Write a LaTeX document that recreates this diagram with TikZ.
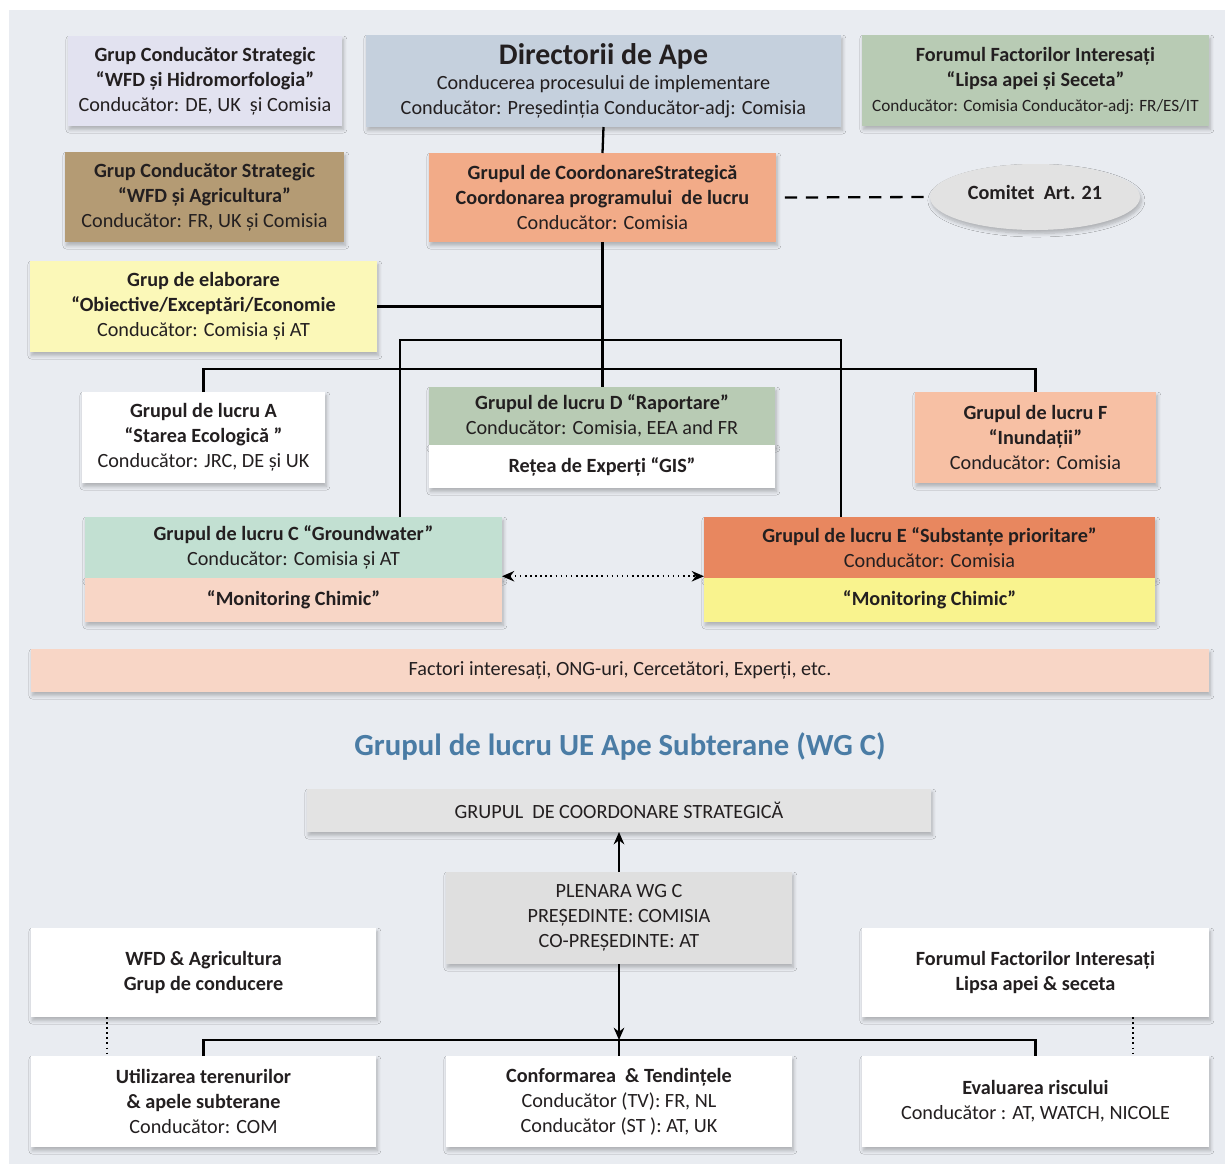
\documentclass[tikz,border=0pt]{standalone}
\usepackage{fontspec}
\setmainfont{Carlito}
\usetikzlibrary{shapes.geometric,arrows.meta,shadows.blur,calc}
\definecolor{bgc}{HTML}{E9ECF1}
\definecolor{txt}{HTML}{231F20}
\definecolor{lav}{HTML}{E2E2F0}
\definecolor{dirc}{HTML}{C5D0DD}
\definecolor{sage}{HTML}{B8CBB4}
\definecolor{tan}{HTML}{B49B74}
\definecolor{salm}{HTML}{F2AB88}
\definecolor{comc}{HTML}{E2E2E2}
\definecolor{lyel}{HTML}{FBF8B8}
\definecolor{fcol}{HTML}{F7C0A4}
\definecolor{mint}{HTML}{C2E0D2}
\definecolor{peach}{HTML}{F8D6C6}
\definecolor{orng}{HTML}{E8875F}
\definecolor{yel}{HTML}{F9F38E}
\definecolor{grayb}{HTML}{E3E3E3}
\definecolor{grayp}{HTML}{DFDFDF}
\definecolor{ttl}{HTML}{4A7CA5}
\newcommand\bx[7]{\node[box,#6,minimum width={(#4-#2)*0.02cm},minimum height={(#5-#3)*0.02cm}] (#1) at ({(#2+#4)/2},{(#3+#5)/2}) {#7};}
\begin{document}
\begin{tikzpicture}[x=0.02cm,y=-0.02cm,
  box/.style={inner sep=0pt,outer sep=0pt,align=center,text=txt,
    font=\fontsize{11.5}{14.2}\selectfont,
    blur shadow={shadow blur steps=6,shadow xshift=0.8pt,shadow yshift=-2pt,shadow opacity=25,shadow blur radius=2pt}},
  conn/.style={line width=1.3pt,draw=black},
  dotc/.style={line width=0.9pt,dotted},
  tip/.style={-{Stealth[length=7pt,width=6pt]}}]
\useasboundingbox (0,0) rectangle (1225,1164);
\fill[white] (0,0) rectangle (1225,1164);
\fill[bgc] (9,10) rectangle (1225,1164);

% ---- top part ----
\bx{hid}{68}{36}{342}{126}{fill=lav}{\textbf{Grup Conducător Strategic}\\\textbf{“WFD și Hidromorfologia”}\\Conducător: DE, UK\ \ și Comisia}
\bx{dir}{366}{35}{841}{127}{fill=dirc}{{\fontsize{17}{19}\selectfont\textbf{Directorii de Ape}}\\Conducerea procesului de implementare\\Conducător: Președinția Conducător-adj: Comisia}
\bx{for}{862}{35}{1209}{126}{fill=sage}{\textbf{Forumul Factorilor Interesați}\\\textbf{“Lipsa apei și Seceta”}\\{\fontsize{9.8}{14.2}\selectfont Conducător: Comisia Conducător-adj: FR/ES/IT}}
\bx{agr}{65}{152}{344}{242}{fill=tan}{\textbf{Grup Conducător Strategic}\\\textbf{“WFD și Agricultura”}\\Conducător: FR, UK și Comisia}
\bx{cs}{429}{153}{776}{242}{fill=salm}{\textbf{Grupul de CoordonareStrategică}\\\textbf{Coordonarea programului\ \ de lucru}\\Conducător: Comisia}
\node[box,ellipse,fill=comc,minimum width=210*0.02cm,minimum height=66*0.02cm] (com) at (1035,197) {\raisebox{5pt}{\textbf{Comitet\ \ Art. 21}}};
\bx{elab}{30}{261}{377}{352}{fill=lyel}{\textbf{Grup de elaborare}\\\textbf{“Obiective/Exceptări/Economie}\\Conducător: Comisia și AT}
\bx{A}{82}{392}{325}{483}{fill=white}{\textbf{Grupul de lucru A}\\\textbf{“Starea Ecologică ”}\\Conducător: JRC, DE și UK}
\bx{Dt}{429}{387}{775}{445}{fill=sage}{\textbf{Grupul de lucru D “Raportare”}\\Conducător: Comisia, EEA and FR}
\bx{Db}{429}{445}{775}{488}{fill=white}{\textbf{Rețea de Experți “GIS”}}
\bx{F}{915}{392}{1156}{483}{fill=fcol}{\textbf{Grupul de lucru F}\\\textbf{“Inundații”}\\Conducător: Comisia}
\bx{Ct}{85}{517}{502}{578}{fill=mint}{\textbf{Grupul de lucru C “Groundwater”}\\Conducător: Comisia și AT}
\bx{Cb}{85}{578}{502}{622}{fill=peach}{\textbf{“Monitoring Chimic”}}
\bx{Et}{704}{517}{1155}{578}{fill=orng}{\textbf{Grupul de lucru E “Substanțe prioritare”}\\Conducător: Comisia}
\bx{Eb}{704}{578}{1155}{622}{fill=yel}{\textbf{“Monitoring Chimic”}}
\bx{fac}{31}{649}{1209}{692}{fill=peach}{Factori interesați, ONG-uri, Cercetători, Experți, etc.}

% connectors top
\coordinate (b1) at (602,369);
\coordinate (x400) at (400,340);
\coordinate (x841) at (841,340);
\draw[conn] (dir.south) -- (cs.north);
\draw[conn] (cs.south) -- (cs.south |- Dt.north);
\draw[conn] (elab.east) -- (elab.east -| cs.south);
\draw[conn] (A.north) |- (b1) -| (F.north);
\draw[conn] (x400 |- Ct.north) -- (x400) -- (x841) -- (x841 |- Et.north);
\draw[line width=1.3pt,dash pattern=on 7pt off 5pt] ([xshift=5pt]cs.east) -- (com.west);
\draw[dotc,{Stealth[length=7pt,width=6pt]}-{Stealth[length=7pt,width=6pt]}] ([yshift=1pt]Cb.north east) -- ([yshift=1pt]Eb.north west);

% ---- bottom part ----
\node[font=\fontsize{17.5}{20}\selectfont\bfseries,text=ttl] (title) at (620,746) {Grupul de lucru UE Ape Subterane (WG C)};
\bx{strat}{307}{789}{931}{832}{fill=grayb}{GRUPUL\ \ DE COORDONARE STRATEGICĂ}
\bx{plen}{446}{872}{792}{964}{fill=grayp}{PLENARA WG C\\PREȘEDINTE: COMISIA\\CO-PREȘEDINTE: AT}
\bx{wfd}{31}{928}{376}{1017}{fill=white}{\textbf{WFD \& Agricultura}\\\textbf{Grup de conducere}}
\bx{forb}{862}{928}{1209}{1017}{fill=white}{\textbf{Forumul Factorilor Interesați}\\\textbf{Lipsa apei \& seceta}}
\bx{util}{31}{1056}{376}{1147}{fill=white}{\textbf{Utilizarea terenurilor}\\\textbf{\& apele subterane}\\Conducător: COM}
\bx{conf}{446}{1056}{792}{1147}{fill=white}{\textbf{Conformarea\ \ \& Tendințele}\\Conducător (TV): FR, NL\\Conducător (ST ): AT, UK}
\bx{eval}{862}{1056}{1209}{1147}{fill=white}{\textbf{Evaluarea riscului}\\Conducător : AT, WATCH, NICOLE}

\coordinate (b2) at (619,1040);
\coordinate (x107) at (107,1000);
\coordinate (x1133) at (1133,1000);
\draw[conn,tip] (plen.north) -- (strat.south);
\draw[conn,tip] (plen.south) -- (b2);
\draw[conn] (util.north) |- (b2) -| (eval.north);
\draw[conn] (b2) -- (conf.north);
\draw[dotc] (x107 |- wfd.south) -- (x107 |- util.north);
\draw[dotc] (x1133 |- forb.south) -- (x1133 |- eval.north);
\end{tikzpicture}
\end{document}
